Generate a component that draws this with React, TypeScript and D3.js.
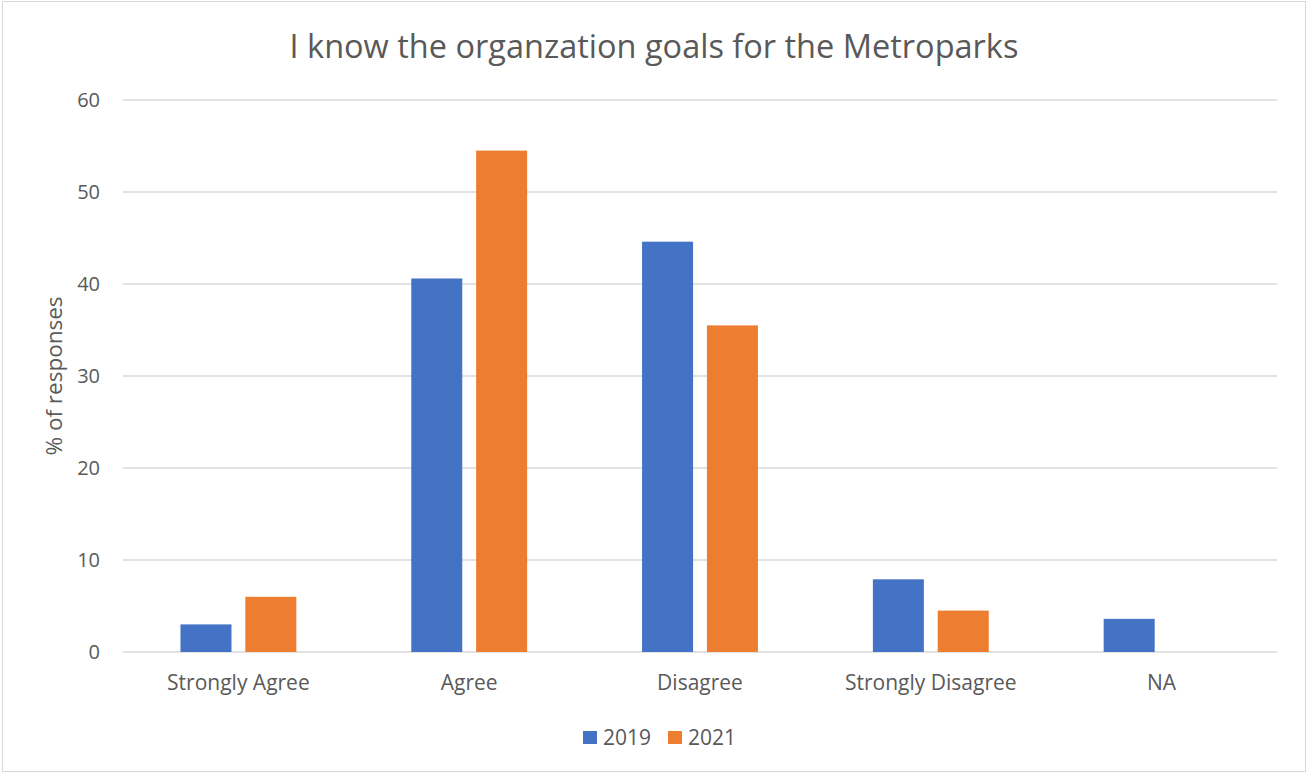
import React from "react";
import * as d3 from "d3";

const categories = ["Strongly Agree", "Agree", "Disagree", "Strongly Disagree", "NA"];
const seriesNames = ["2019", "2021"];
const values2019 = [3, 40.6, 44.6, 7.9, 3.6];
const values2021 = [6, 54.5, 35.5, 4.5, 0];
const yTicks = [0, 10, 20, 30, 40, 50, 60];
const colors = ["#4472C4", "#ED7D31"];

const W = 1308;
const H = 774;
const margin = { left: 123, right: 31, top: 100, bottom: 122 };
const FONT = "Open Sans, Carlito, Calibri, sans-serif";
const TXT = "#595959";

export default function App() {
  const x = d3
    .scaleBand<string>()
    .domain(categories)
    .range([margin.left, W - margin.right])
    .paddingInner(0)
    .paddingOuter(0);
  const y = d3.scaleLinear().domain([0, 60]).range([H - margin.bottom, margin.top]);
  const bw = x.bandwidth();
  const barW = bw * 0.221;
  const gap = bw * 0.06;
  const series = [values2019, values2021];

  return (
    <svg width={W} height={H} style={{ position: "absolute", left: 0, top: 0, background: "#fff" }}>
      <rect x={2.5} y={1.5} width={W - 5} height={H - 4} fill="#fff" stroke="#D9D9D9" strokeWidth={1} />
      <text x={654} y={58} textAnchor="middle" fontFamily={FONT} fontSize={32.5} fill={TXT}>
        I know the organzation goals for the Metroparks
      </text>
      {yTicks.map((t) => (
        <g key={t}>
          <line x1={margin.left} x2={W - margin.right} y1={y(t)} y2={y(t)} stroke="#D9D9D9" strokeWidth={1.3} />
          <text x={100} y={y(t) + 7} textAnchor="end" fontFamily={FONT} fontSize={20} fill={TXT}>
            {t}
          </text>
        </g>
      ))}
      <text
        transform={`translate(62, ${y(30)}) rotate(-90)`}
        textAnchor="middle"
        fontFamily={FONT}
        fontSize={22.5}
        fill={TXT}
      >
        % of responses
      </text>
      {series.map((vals, si) =>
        categories.map((c, ci) => {
          const center = (x(c) as number) + bw / 2;
          const x0 = si === 0 ? center - gap / 2 - barW : center + gap / 2;
          const v = vals[ci];
          if (v <= 0) return null;
          return (
            <rect
              key={`${si}-${ci}`}
              x={x0}
              y={y(v)}
              width={barW}
              height={y(0) - y(v)}
              fill={colors[si]}
            />
          );
        })
      )}
      {categories.map((c) => (
        <text
          key={c}
          x={(x(c) as number) + bw / 2}
          y={690}
          textAnchor="middle"
          fontFamily={FONT}
          fontSize={21}
          fill={TXT}
        >
          {c}
        </text>
      ))}
      {seriesNames.map((s, i) => {
        const lx = 583 + i * 85;
        return (
          <g key={s}>
            <rect x={lx} y={731} width={14} height={13} fill={colors[i]} />
            <text x={lx + 20} y={745} fontFamily={FONT} fontSize={21} fill={TXT}>
              {s}
            </text>
          </g>
        );
      })}
    </svg>
  );
}
